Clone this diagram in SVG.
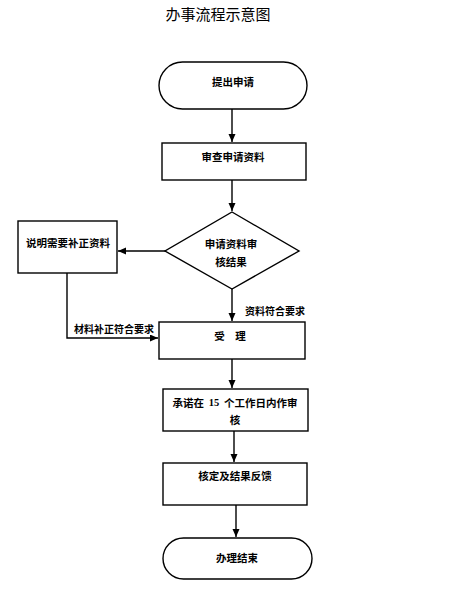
<svg xmlns="http://www.w3.org/2000/svg" width="460" height="600" viewBox="0 0 460 600">
<defs>
<style>
.shape{fill:#fff;stroke:#000;stroke-width:1.4}
.t{font-family:"Noto Sans CJK SC","Noto Sans",sans-serif;font-size:10.5px;font-weight:bold;fill:#000;text-anchor:middle;dominant-baseline:central}
.lbl{font-family:"Noto Sans CJK SC","Noto Sans",sans-serif;font-size:10px;font-weight:bold;fill:#000;dominant-baseline:central}
.c{fill:none;stroke:#000;stroke-width:1.4}
</style>
<marker id="ah" markerUnits="userSpaceOnUse" markerWidth="9" markerHeight="8" refX="8" refY="3.5" orient="auto">
<path d="M0,0 L8,3.5 L0,7 z" fill="#000"/>
</marker>
</defs>
<rect width="460" height="600" fill="#fff"/>
<text x="218" y="13" font-family="'Noto Sans CJK SC','Noto Sans',sans-serif" font-size="15" text-anchor="middle" dominant-baseline="central" fill="#000">办事流程示意图</text>

<g id="connectors">
<path class="c" d="M232,109 V142" marker-end="url(#ah)"/>
<path class="c" d="M232,180 V211" marker-end="url(#ah)"/>
<path class="c" d="M165,251 H118" marker-end="url(#ah)"/>
<path class="c" d="M232,289 V321" marker-end="url(#ah)"/>
<path class="c" d="M67,273 V338 H158" marker-end="url(#ah)"/>
<path class="c" d="M232,359 V388" marker-end="url(#ah)"/>
<path class="c" d="M234,431 V462" marker-end="url(#ah)"/>
<path class="c" d="M236,505 V537" marker-end="url(#ah)"/>
<text class="lbl" x="245" y="310">资料符合要求</text>
<text class="lbl" x="74" y="328">材料补正符合要求</text>
</g>

<g id="start">
<rect class="shape" x="159" y="62" width="148" height="47" rx="23.5" ry="23.5"/>
<text class="t" x="233" y="81">提出申请</text>
</g>
<g id="review">
<rect class="shape" x="162" y="143" width="144" height="37"/>
<text class="t" x="233" y="156">审查申请资料</text>
</g>
<g id="decision">
<polygon class="shape" points="232,212 299,251 232,289 165,251"/>
<text class="t" x="231" y="243">申请资料审</text>
<text class="t" x="231" y="261">核结果</text>
</g>
<g id="supplement">
<rect class="shape" x="18" y="221" width="99" height="52"/>
<text class="t" x="68" y="242">说明需要补正资料</text>
</g>
<g id="accept">
<rect class="shape" x="159" y="322" width="146" height="37"/>
<text class="t" x="230" y="335">受　理</text>
</g>
<g id="promise">
<rect class="shape" x="163" y="389" width="145" height="42"/>
<text class="t" x="235" y="402" xml:space="preserve">承诺在  <tspan font-family="'Liberation Serif',serif" font-weight="bold">15</tspan>  个工作日内作审</text>
<text class="t" x="235" y="419">核</text>
</g>
<g id="feedback">
<rect class="shape" x="163" y="463" width="144" height="42"/>
<text class="t" x="235" y="475">核定及结果反馈</text>
</g>
<g id="end">
<rect class="shape" x="163" y="538" width="149" height="41" rx="20.5" ry="20.5"/>
<text class="t" x="237" y="557">办理结束</text>
</g>
</svg>
